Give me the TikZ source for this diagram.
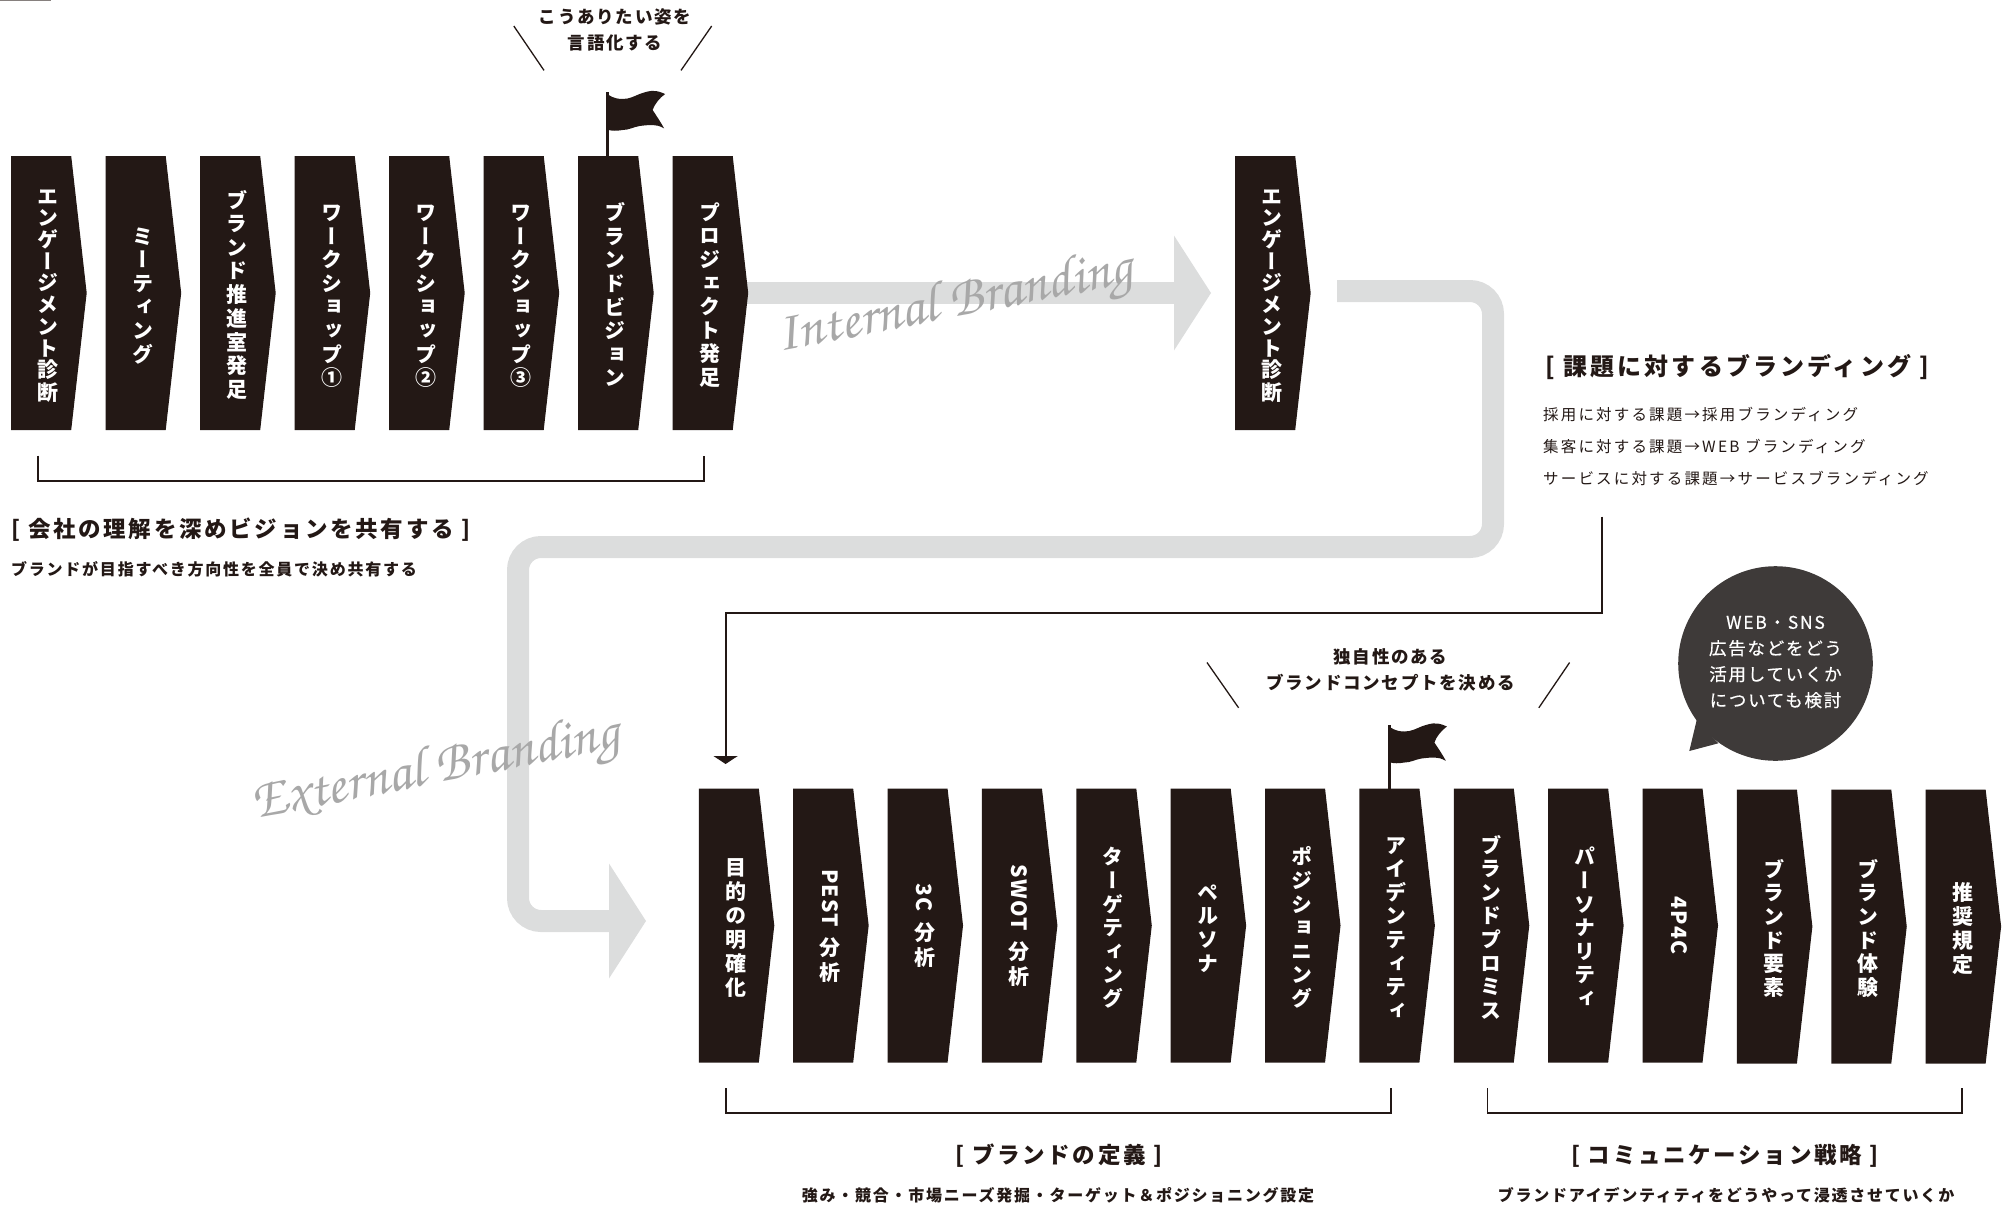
\documentclass[tikz,border=0pt]{standalone}
\usepackage{fontspec}
\usepackage{graphicx}
\setmainfont{Noto Sans CJK JP}
\newfontfamily\tatefont[RawFeature={+vert}]{Noto Sans CJK JP}
\newfontfamily\medfont[FakeBold=0.5]{Noto Sans CJK JP}
\usetikzlibrary{arrows.meta,positioning,shapes.symbols,backgrounds}

\definecolor{ink}{HTML}{231815}
\definecolor{flowgray}{HTML}{DCDDDD}
\definecolor{bubblegray}{HTML}{3E3A39}
\definecolor{scriptgray}{HTML}{A8A8A8}

% vertical text, one glyph per row
\makeatletter
\newlength\tatepitch
\setlength\tatepitch{23.6pt}
\newcommand\tate[1]{\vbox{\offinterlineskip\@tfor\tatechar:=#1\do{%
  \hbox to 38pt{\hskip 14pt\hbox to 24pt{\hss\tatechar\hss}\vrule width 0pt
    height \dimexpr0.5\tatepitch+10.2pt\relax depth \dimexpr0.5\tatepitch-10.2pt\relax\hss}}}}
\makeatother
\newcommand\tatelatin[1]{\hbox to 38pt{\hskip 14pt\hbox to 24pt{\hss\rotatebox{-90}{\bfseries\addfontfeature{LetterSpace=6}#1}\hss}\hss}}
\newcommand\tatemix[2]{\vbox{\offinterlineskip\tatelatin{#1}\vskip 7pt\tate{#2}}}
\newcommand\tatelong[1]{\setlength\tatepitch{21.2pt}\tate{#1}}

\begin{document}
\begin{tikzpicture}[
  x=1pt, y=-1pt,
  stepbox/.style={signal, signal to=east, signal pointer angle=167.1, fill=ink, text=white,
    minimum width=75.5pt, minimum height=274pt, inner sep=0pt,
    font=\fontsize{21}{22}\selectfont\tatefont\bfseries},
  flow/.style={draw=flowgray, line width=22pt, rounded corners=23pt,
    -{Triangle[length=37pt, width=115pt, line width=0pt]}},
  thinline/.style={draw=ink, line width=1.3pt},
  bracket/.style={draw=ink, line width=1.8pt},
  headtext/.style={text=ink, inner sep=0pt,
    font=\fontsize{22.5}{26}\selectfont\bfseries\addfontfeature{LetterSpace=12}},
  subtext/.style={text=ink, inner sep=0pt,
    font=\fontsize{16}{20}\selectfont\bfseries\addfontfeature{LetterSpace=11}},
  notetext/.style={text=ink, inner sep=0pt, align=center,
    font=\fontsize{17.5}{26.5}\selectfont\bfseries\addfontfeature{LetterSpace=10}},
  linetext/.style={text=ink, inner sep=0pt, anchor=west,
    font=\fontsize{15.5}{18}\selectfont\addfontfeature{LetterSpace=14}},
  scripttext/.style={text=scriptgray, inner sep=0pt, rotate=11,
    font=\fontsize{56}{56}\usefont{OT1}{pzc}{mb}{it}},
  flag/.pic={
    \fill[ink] (-1.3,0) rectangle (1.3,-64);
    \fill[ink] (1,-61) .. controls (6,-58) and (10,-57) .. (15,-57)
      .. controls (22,-57) and (27,-60) .. (32,-62)
      .. controls (38,-64) and (42,-65.5) .. (47,-65)
      .. controls (51,-65) and (55,-63) .. (57.5,-62)
      .. controls (52,-58) and (47,-52) .. (45,-46)
      .. controls (49,-40) and (53,-34) .. (56.5,-27.7)
      .. controls (52,-30) and (49,-31) .. (45,-31)
      .. controls (40,-31) and (36,-30.5) .. (32,-30)
      .. controls (26,-29) and (21,-26) .. (15,-26)
      .. controls (9,-25) and (5,-25) .. (1,-26) -- cycle;
  }
]
\useasboundingbox (0,0) rectangle (2006,1208);
\fill[ink!55] (0,0) rectangle (51,1);

% top row
\node[stepbox, anchor=west] (eng) at (11,293) {\tatelong{エンゲージメント診断}};
\node[stepbox, right=18.6pt of eng] (meet) {\tate{ミーティング}};
\node[stepbox, right=18.6pt of meet] (office) {\tate{ブランド推進室発足}};
\node[stepbox, right=18.6pt of office] (ws1) {\tate{ワークショップ①}};
\node[stepbox, right=18.6pt of ws1] (ws2) {\tate{ワークショップ②}};
\node[stepbox, right=18.6pt of ws2] (ws3) {\tate{ワークショップ③}};
\node[stepbox, right=18.6pt of ws3] (vision) {\tate{ブランドビジョン}};
\node[stepbox, right=18.6pt of vision] (launch) {\tate{プロジェクト発足}};
\node[stepbox, anchor=west] (eng2) at (1235,293) {\tatelong{エンゲージメント診断}};

% bottom row
\node[stepbox, anchor=west] (goal) at (698.6,925.5) {\tate{目的の明確化}};
\node[stepbox, right=18.47pt of goal] (pest) {\tatemix{PEST}{分析}};
\node[stepbox, right=18.47pt of pest] (tc) {\tatemix{3C}{分析}};
\node[stepbox, right=18.47pt of tc] (swot) {\tatemix{SWOT}{分析}};
\node[stepbox, right=18.47pt of swot] (target) {\tate{ターゲティング}};
\node[stepbox, right=18.47pt of target] (persona) {\tate{ペルソナ}};
\node[stepbox, right=18.47pt of persona] (posi) {\tate{ポジショニング}};
\node[stepbox, right=18.47pt of posi] (ident) {\tate{アイデンティティ}};
\node[stepbox, right=18.47pt of ident] (promise) {\tate{ブランドプロミス}};
\node[stepbox, right=18.47pt of promise] (person) {\tate{パーソナリティ}};
\node[stepbox, right=18.47pt of person] (fourp) {\tatelatin{4P4C}};
\node[stepbox, right=18.47pt of fourp, yshift=-1pt] (elem) {\tate{ブランド要素}};
\node[stepbox, right=18.47pt of elem] (exper) {\tate{ブランド体験}};
\node[stepbox, right=18.47pt of exper] (rule) {\tate{推奨規定}};

% gray flows
\coordinate (flowin) at (1211,294);
\coordinate (flowstart) at (1337,291);
\coordinate (flowturn1) at (1493,291);
\coordinate (flowturn2) at (1493,547);
\coordinate (flowturn3) at (518,547);
\coordinate (flowturn4) at (518,921);
\coordinate (flowout) at (646,921);
\begin{scope}[on background layer]
\draw[flow] (launch.center) -- (launch.center -| flowin);
\draw[flow] (flowstart) -- (flowturn1) -- (flowturn2) -- (flowturn3) -- (flowturn4) -- (flowout);
\end{scope}
\node[scripttext] (internal) at (955,306) {Internal Branding};
\node[scripttext] (external) at (436,772) {External Branding};

% top notes
\pic at (607.6,156) {flag};
\node[notetext] (wish) at (615,30) {こうありたい姿を\\言語化する};
\draw[thinline] (513.8,26) -- (544,70.4);
\draw[thinline] (711.7,26) -- (681,70.4);
\draw[bracket] (38.3,455.5) |- (704,480.7) -- (704,455.5);
\node[headtext, anchor=west] (share) at (11,530) {[ 会社の理解を深めビジョンを共有する ]};
\node[subtext, anchor=west] (sharesub) at (11,569.5) {ブランドが目指すべき方向性を全員で決め共有する};

% issue branding
\node[headtext, anchor=west, font=\fontsize{24}{26}\selectfont\bfseries\addfontfeature{LetterSpace=13}] (issue) at (1545,366.7) {[ 課題に対するブランディング ]};
\node[linetext] (issue1) at (1543,415) {採用に対する課題→採用ブランディング};
\node[linetext] (issue2) at (1543,446.5) {集客に対する課題→WEB ブランディング};
\node[linetext] (issue3) at (1543,478) {サービスに対する課題→サービスブランディング};
\coordinate (issuefoot) at (1601.7,516.7);
\coordinate (goalhead) at (725.6,764);
\draw[bracket, -{Triangle[length=8pt, width=24pt]}] (issuefoot) -- (issuefoot |- 0,612.7) -| (goalhead);

% concept note and bubble
\pic at (1389.4,788.5) {flag};
\node[notetext] (concept) at (1390.5,670) {独自性のある\\ブランドコンセプトを決める};
\draw[thinline] (1207,662.5) -- (1238.6,707.8);
\draw[thinline] (1569.6,662.5) -- (1538.8,707.8);
\node[circle, fill=bubblegray, minimum size=194.6pt, inner sep=0pt] (bubble) at (1775.5,663.5) {};
\fill[bubblegray] (1696.7,720) -- (1689.3,751) -- (1718.3,743.3) -- cycle;
\node[text=white, inner sep=0pt, align=center,
  font=\fontsize{17.5}{26}\selectfont\medfont\addfontfeature{LetterSpace=10}] (bubbletext) at (1775.5,662)
  {WEB・SNS\\広告などをどう\\活用していくか\\についても検討};

% bottom brackets
\draw[bracket] (726,1088) |- (1391,1113) -- (1391,1088);
\draw[bracket] (1487.5,1088) |- (1962,1113) -- (1962,1088);
\node[headtext] (define) at (1059,1156) {[ ブランドの定義 ]};
\node[subtext] (definesub) at (1058,1195.4) {強み・競合・市場ニーズ発掘・ターゲット＆ポジショニング設定};
\node[headtext] (comm) at (1725,1156) {[ コミュニケーション戦略 ]};
\node[subtext] (commsub) at (1726,1195.4) {ブランドアイデンティティをどうやって浸透させていくか};
\end{tikzpicture}
\end{document}
